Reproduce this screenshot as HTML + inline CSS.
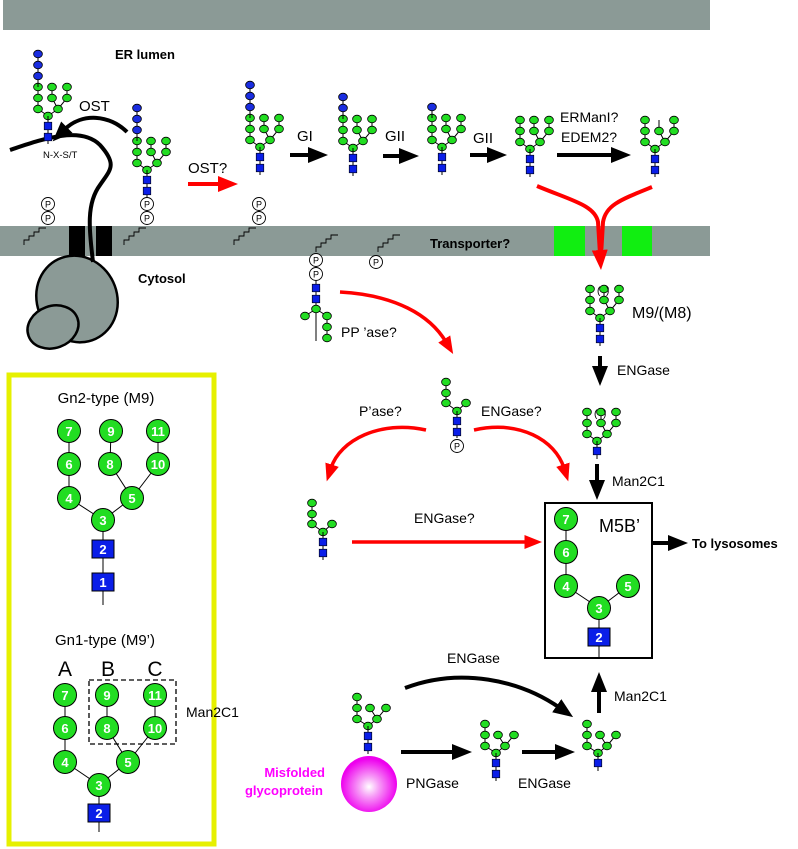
<!DOCTYPE html>
<html><head><meta charset="utf-8"><style>
html,body{margin:0;padding:0;background:#fff}
svg{display:block}
text{font-family:"Liberation Sans",Arial,sans-serif}
</style></head><body>
<svg width="798" height="849" viewBox="0 0 798 849" xmlns="http://www.w3.org/2000/svg">
<defs>
<ellipse id="m" rx="4.4" ry="3.8" fill="#22dd22" stroke="#000" stroke-width="0.8"/>
<ellipse id="b" rx="4.4" ry="3.8" fill="#1a2de0" stroke="#000" stroke-width="0.8"/>
<rect id="s" x="-3.8" y="-3.8" width="7.6" height="7.6" fill="#0a1ee8" stroke="#000" stroke-width="0.6"/>
<g id="pc"><circle r="6.5" fill="#fff" stroke="#000" stroke-width="0.9"/><text y="3.3" font-size="9" text-anchor="middle">P</text></g>
<g id="gn2"><line x1="0" y1="0" x2="0" y2="28" stroke="#000" stroke-width="1"/><use href="#s" y="10"/><use href="#s" y="21"/></g>
<g id="gn1"><line x1="0" y1="0" x2="0" y2="18" stroke="#000" stroke-width="1"/><use href="#s" y="10"/></g>
<g id="m9l" stroke="#000" stroke-width="1" fill="none"><polyline points="0,0 -10,-7 -10,-29"/><polyline points="0,0 10,-7 4,-18 4,-29"/><polyline points="10,-7 19,-18 19,-29"/></g>
<g id="m8"><use href="#m9l"/><use href="#m" x="-10" y="-7"/><use href="#m" x="-10" y="-18"/><use href="#m" x="-10" y="-29"/><use href="#m" x="10" y="-7"/><use href="#m" x="4" y="-18"/><use href="#m" x="19" y="-18"/><use href="#m" x="19" y="-29"/><use href="#m"/></g>
<g id="m9"><use href="#m8"/><use href="#m" x="4" y="-29"/></g>
<g id="g1"><line x1="-10" y1="-29" x2="-10" y2="-40" stroke="#000"/><use href="#b" x="-10" y="-40"/></g>
<g id="g2"><line x1="-10" y1="-29" x2="-10" y2="-51" stroke="#000"/><use href="#b" x="-10" y="-40"/><use href="#b" x="-10" y="-51"/></g>
<g id="g3"><line x1="-10" y1="-29" x2="-10" y2="-62" stroke="#000"/><use href="#b" x="-10" y="-40"/><use href="#b" x="-10" y="-51"/><use href="#b" x="-10" y="-62"/></g>
<g id="m7"><g stroke="#000" stroke-width="1" fill="none"><polyline points="0,0 -11,-7 -11,-29"/><polyline points="0,0 9,-7 2,-18"/><polyline points="9,-7 18,-18"/></g><use href="#m" x="-11" y="-7"/><use href="#m" x="-11" y="-18"/><use href="#m" x="-11" y="-29"/><use href="#m" x="9" y="-7"/><use href="#m" x="2" y="-18"/><use href="#m" x="18" y="-18"/><use href="#m"/></g>
<g id="m4"><g stroke="#000" stroke-width="1" fill="none"><polyline points="0,0 -11,-8 -11,-29"/><line x1="0" y1="0" x2="9" y2="-8"/></g><use href="#m" x="-11" y="-8"/><use href="#m" x="-11" y="-18"/><use href="#m" x="-11" y="-29"/><use href="#m" x="9" y="-8"/><use href="#m"/></g>
<g id="zz"><polyline points="0,0 0,-5 5,-5 5,-9 10,-9 10,-13 15,-13 15,-17 22,-17" fill="none" stroke="#000" stroke-width="0.9"/></g>
<marker id="ak" markerWidth="5" markerHeight="4" refX="1" refY="2" orient="auto" markerUnits="strokeWidth"><path d="M0,0 L5,2 L0,4 Z" fill="#000"/></marker>
<marker id="ar" markerWidth="5" markerHeight="4" refX="1" refY="2" orient="auto" markerUnits="strokeWidth"><path d="M0,0 L5,2 L0,4 Z" fill="#f00"/></marker>
<radialGradient id="sph" cx="0.5" cy="0.55" r="0.5"><stop offset="0" stop-color="#fff"/><stop offset="0.35" stop-color="#f7a0f7"/><stop offset="1" stop-color="#ee00ee"/></radialGradient>
</defs>

<rect x="3" y="0" width="707" height="30" fill="#8b9a96"/>
<rect x="0" y="226" width="710" height="30" fill="#8b9a96"/>
<rect x="554" y="226" width="31" height="30" fill="#11ee11"/>
<rect x="622" y="226" width="30" height="30" fill="#11ee11"/>
<rect x="69" y="226" width="16" height="30" fill="#000"/>
<rect x="96" y="226" width="16" height="30" fill="#000"/>

<ellipse cx="77" cy="299" rx="40" ry="44" transform="rotate(-25 77 299)" fill="#8b9a96" stroke="#000" stroke-width="2.5"/>
<ellipse cx="53" cy="327" rx="26" ry="21" transform="rotate(-20 53 327)" fill="#8b9a96" stroke="#000" stroke-width="2.5"/>
<path d="M10,150 C40,140 80,125 100,145 C118,165 110,170 100,185 C85,205 90,235 93,262" fill="none" stroke="#000" stroke-width="4"/>

<text x="115" y="59" font-size="13" font-weight="bold">ER lumen</text>
<text x="79" y="111" font-size="15">OST</text>
<text x="43" y="158" font-size="9.5">N-X-S/T</text>
<path d="M127,132 C110,115 82,112 64,130" fill="none" stroke="#000" stroke-width="4" marker-end="url(#ak)"/>
<text x="138" y="283" font-size="13" font-weight="bold">Cytosol</text>
<text x="430" y="248" font-size="13" font-weight="bold">Transporter?</text>

<g transform="translate(48,116)"><use href="#m9"/><use href="#g3"/><use href="#gn2"/></g>
<g transform="translate(147,170)"><use href="#m9"/><use href="#g3"/><use href="#gn2"/></g>
<use href="#pc" x="147" y="204"/><use href="#pc" x="147" y="218"/>
<use href="#pc" x="48" y="204"/><use href="#pc" x="48" y="218"/>
<use href="#pc" x="259" y="204"/><use href="#pc" x="259" y="218"/>
<use href="#zz" x="24" y="245"/><use href="#zz" x="124" y="245"/><use href="#zz" x="234" y="245"/>
<g transform="translate(260,147)"><use href="#m9"/><use href="#g3"/><use href="#gn2"/></g>
<g transform="translate(353,148)"><use href="#m9"/><use href="#g2"/><use href="#gn2"/></g>
<g transform="translate(442,147)"><use href="#m9"/><use href="#g1"/><use href="#gn2"/></g>
<g transform="translate(530,149)"><use href="#m9"/><use href="#gn2"/></g>
<g transform="translate(655,149)"><use href="#m8"/><use href="#gn2"/></g>

<text x="188" y="173" font-size="15">OST?</text>
<line x1="188" y1="184" x2="222" y2="184" stroke="#f00" stroke-width="4" marker-end="url(#ar)"/>
<text x="297" y="141" font-size="15">GI</text>
<line x1="290" y1="155" x2="312" y2="155" stroke="#000" stroke-width="4" marker-end="url(#ak)"/>
<text x="385" y="141" font-size="15">GII</text>
<line x1="383" y1="156" x2="403" y2="156" stroke="#000" stroke-width="4" marker-end="url(#ak)"/>
<text x="473" y="143" font-size="15">GII</text>
<line x1="470" y1="155" x2="491" y2="155" stroke="#000" stroke-width="4" marker-end="url(#ak)"/>
<text x="560" y="122" font-size="14">ERManI?</text>
<text x="561" y="142" font-size="14">EDEM2?</text>
<line x1="557" y1="155" x2="615" y2="155" stroke="#000" stroke-width="4" marker-end="url(#ak)"/>

<path d="M537,186 C570,200 595,205 598,222 L600,254" fill="none" stroke="#f00" stroke-width="4" marker-end="url(#ar)"/>
<path d="M652,187 C620,200 606,205 603,222 L601,256" fill="none" stroke="#f00" stroke-width="4"/>

<use href="#zz" x="316" y="252"/>
<use href="#zz" x="378" y="252"/>
<use href="#pc" x="376" y="262"/>
<line x1="316" y1="260" x2="316" y2="341" stroke="#000"/>
<use href="#pc" x="316" y="260"/><use href="#pc" x="316" y="274"/>
<use href="#s" x="316" y="288"/><use href="#s" x="316" y="299"/>
<g stroke="#000" fill="none"><polyline points="316,309 305,316"/><polyline points="316,309 327,316 327,338"/></g>
<use href="#m" x="305" y="316"/><use href="#m" x="327" y="316"/><use href="#m" x="327" y="327"/><use href="#m" x="327" y="338"/><use href="#m" x="316" y="309"/>
<text x="341" y="337" font-size="14">PP ’ase?</text>
<path d="M340,292 C395,295 430,315 446,342" fill="none" stroke="#f00" stroke-width="3.5" marker-end="url(#ar)"/>

<g transform="translate(600,318)"><use href="#m9"/><use href="#gn2"/></g>
<text x="597" y="294" font-size="10">(</text><text x="606" y="294" font-size="10">)</text>
<text x="632" y="318" font-size="16">M9/(M8)</text>
<line x1="600" y1="356" x2="600" y2="370" stroke="#000" stroke-width="4" marker-end="url(#ak)"/>
<text x="617" y="375" font-size="14">ENGase</text>
<g transform="translate(597,441)"><use href="#m9"/><use href="#gn1"/></g>
<text x="594" y="417" font-size="10">(</text><text x="603" y="417" font-size="10">)</text>
<line x1="597" y1="464" x2="597" y2="484" stroke="#000" stroke-width="4" marker-end="url(#ak)"/>
<text x="612" y="486" font-size="14">Man2C1</text>

<g transform="translate(457,411)"><use href="#m4"/><line x1="0" y1="0" x2="0" y2="27" stroke="#000"/><use href="#s" y="10"/><use href="#s" y="21"/></g>
<use href="#pc" x="457" y="446"/>
<text x="359" y="416" font-size="14">P’ase?</text>
<text x="481" y="416" font-size="14">ENGase?</text>
<path d="M426,430 C380,420 340,440 331,468" fill="none" stroke="#f00" stroke-width="3.5" marker-end="url(#ar)"/>
<path d="M474,430 C520,420 555,440 564,468" fill="none" stroke="#f00" stroke-width="3.5" marker-end="url(#ar)"/>

<g transform="translate(323,532)"><use href="#m4"/><use href="#gn2"/></g>
<text x="414" y="523" font-size="14">ENGase?</text>
<line x1="352" y1="542" x2="528" y2="542" stroke="#f00" stroke-width="3.5" marker-end="url(#ar)"/>

<rect x="545" y="503" width="107" height="155" fill="#fff" stroke="#000" stroke-width="2"/>
<text x="599" y="532" font-size="18">M5B’</text>
<g stroke="#000" stroke-width="1"><line x1="566" y1="519" x2="566" y2="586"/><line x1="566" y1="586" x2="599" y2="608"/><line x1="628" y1="586" x2="599" y2="608"/><line x1="599" y1="608" x2="599" y2="658"/></g>
<g font-size="13" font-weight="bold" fill="#fff" text-anchor="middle">
<circle cx="566" cy="519" r="11.5" fill="#22dd22" stroke="#000"/><text x="566" y="524">7</text>
<circle cx="566" cy="552" r="11.5" fill="#22dd22" stroke="#000"/><text x="566" y="557">6</text>
<circle cx="566" cy="586" r="11.5" fill="#22dd22" stroke="#000"/><text x="566" y="591">4</text>
<circle cx="628" cy="586" r="11.5" fill="#22dd22" stroke="#000"/><text x="628" y="591">5</text>
<circle cx="599" cy="608" r="11.5" fill="#22dd22" stroke="#000"/><text x="599" y="613">3</text>
<rect x="588" y="628" width="22" height="18" fill="#0a1ee8" stroke="#000"/><text x="599" y="642">2</text>
</g>
<line x1="652" y1="543" x2="672" y2="543" stroke="#000" stroke-width="4" marker-end="url(#ak)"/>
<text x="692" y="548" font-size="13" font-weight="bold">To lysosomes</text>

<text x="447" y="663" font-size="14">ENGase</text>
<path d="M405,688 C460,667 520,680 560,708" fill="none" stroke="#000" stroke-width="4" marker-end="url(#ak)"/>
<line x1="599" y1="713" x2="599" y2="688" stroke="#000" stroke-width="4" marker-end="url(#ak)"/>
<text x="614" y="701" font-size="14">Man2C1</text>
<g transform="translate(368,726)"><use href="#m7"/><use href="#gn2"/></g>
<circle cx="369" cy="784" r="28" fill="url(#sph)"/>
<text x="325" y="777" font-size="13" font-weight="bold" fill="#ff00ff" text-anchor="end">Misfolded</text>
<text x="323" y="795" font-size="13" font-weight="bold" fill="#ff00ff" text-anchor="end">glycoprotein</text>
<line x1="401" y1="752" x2="456" y2="752" stroke="#000" stroke-width="4" marker-end="url(#ak)"/>
<text x="406" y="788" font-size="14">PNGase</text>
<g transform="translate(496,753)"><use href="#m7"/><use href="#gn2"/></g>
<line x1="522" y1="752" x2="559" y2="752" stroke="#000" stroke-width="4" marker-end="url(#ak)"/>
<text x="518" y="788" font-size="14">ENGase</text>
<g transform="translate(598,753)"><use href="#m7"/><use href="#gn1"/></g>

<rect x="9" y="375" width="205" height="469" fill="none" stroke="#e6f000" stroke-width="5"/>
<text x="106" y="403" font-size="15" text-anchor="middle">Gn2-type (M9)</text>
<g stroke="#000" stroke-width="1"><line x1="69" y1="431" x2="69" y2="498"/><line x1="69" y1="498" x2="103" y2="520"/><line x1="111" y1="431" x2="110" y2="464"/><line x1="110" y1="464" x2="132" y2="498"/><line x1="158" y1="431" x2="158" y2="464"/><line x1="158" y1="464" x2="132" y2="498"/><line x1="132" y1="498" x2="103" y2="520"/><line x1="103" y1="520" x2="103" y2="605"/></g>
<g font-size="13" font-weight="bold" fill="#fff" text-anchor="middle">
<circle cx="69" cy="431" r="11.5" fill="#22dd22" stroke="#000"/><text x="69" y="436">7</text>
<circle cx="111" cy="431" r="11.5" fill="#22dd22" stroke="#000"/><text x="111" y="436">9</text>
<circle cx="158" cy="431" r="11.5" fill="#22dd22" stroke="#000"/><text x="158" y="436">11</text>
<circle cx="69" cy="464" r="11.5" fill="#22dd22" stroke="#000"/><text x="69" y="469">6</text>
<circle cx="110" cy="464" r="11.5" fill="#22dd22" stroke="#000"/><text x="110" y="469">8</text>
<circle cx="158" cy="464" r="11.5" fill="#22dd22" stroke="#000"/><text x="158" y="469">10</text>
<circle cx="69" cy="498" r="11.5" fill="#22dd22" stroke="#000"/><text x="69" y="503">4</text>
<circle cx="132" cy="498" r="11.5" fill="#22dd22" stroke="#000"/><text x="132" y="503">5</text>
<circle cx="103" cy="520" r="11.5" fill="#22dd22" stroke="#000"/><text x="103" y="525">3</text>
<rect x="92" y="540" width="22" height="18" fill="#0a1ee8" stroke="#000"/><text x="103" y="554">2</text>
<rect x="92" y="573" width="22" height="18" fill="#0a1ee8" stroke="#000"/><text x="103" y="587">1</text>
</g>
<text x="105" y="645" font-size="15" text-anchor="middle">Gn1-type (M9’)</text>
<g font-size="21" text-anchor="middle"><text x="65" y="676">A</text><text x="108" y="676">B</text><text x="155" y="676">C</text></g>
<rect x="89" y="680" width="87" height="64" fill="none" stroke="#000" stroke-width="1.3" stroke-dasharray="5,3"/>
<text x="186" y="717" font-size="14">Man2C1</text>
<g stroke="#000" stroke-width="1"><line x1="65" y1="695" x2="65" y2="762"/><line x1="65" y1="762" x2="99" y2="785"/><line x1="107" y1="695" x2="107" y2="728"/><line x1="107" y1="728" x2="128" y2="762"/><line x1="155" y1="695" x2="155" y2="728"/><line x1="155" y1="728" x2="128" y2="762"/><line x1="128" y1="762" x2="99" y2="785"/><line x1="99" y1="785" x2="99" y2="832"/></g>
<g font-size="13" font-weight="bold" fill="#fff" text-anchor="middle">
<circle cx="65" cy="695" r="11.5" fill="#22dd22" stroke="#000"/><text x="65" y="700">7</text>
<circle cx="107" cy="695" r="11.5" fill="#22dd22" stroke="#000"/><text x="107" y="700">9</text>
<circle cx="155" cy="695" r="11.5" fill="#22dd22" stroke="#000"/><text x="155" y="700">11</text>
<circle cx="65" cy="728" r="11.5" fill="#22dd22" stroke="#000"/><text x="65" y="733">6</text>
<circle cx="107" cy="728" r="11.5" fill="#22dd22" stroke="#000"/><text x="107" y="733">8</text>
<circle cx="155" cy="728" r="11.5" fill="#22dd22" stroke="#000"/><text x="155" y="733">10</text>
<circle cx="65" cy="762" r="11.5" fill="#22dd22" stroke="#000"/><text x="65" y="767">4</text>
<circle cx="128" cy="762" r="11.5" fill="#22dd22" stroke="#000"/><text x="128" y="767">5</text>
<circle cx="99" cy="785" r="11.5" fill="#22dd22" stroke="#000"/><text x="99" y="790">3</text>
<rect x="88" y="804" width="22" height="18" fill="#0a1ee8" stroke="#000"/><text x="99" y="818">2</text>
</g>
</svg>
</body></html>
